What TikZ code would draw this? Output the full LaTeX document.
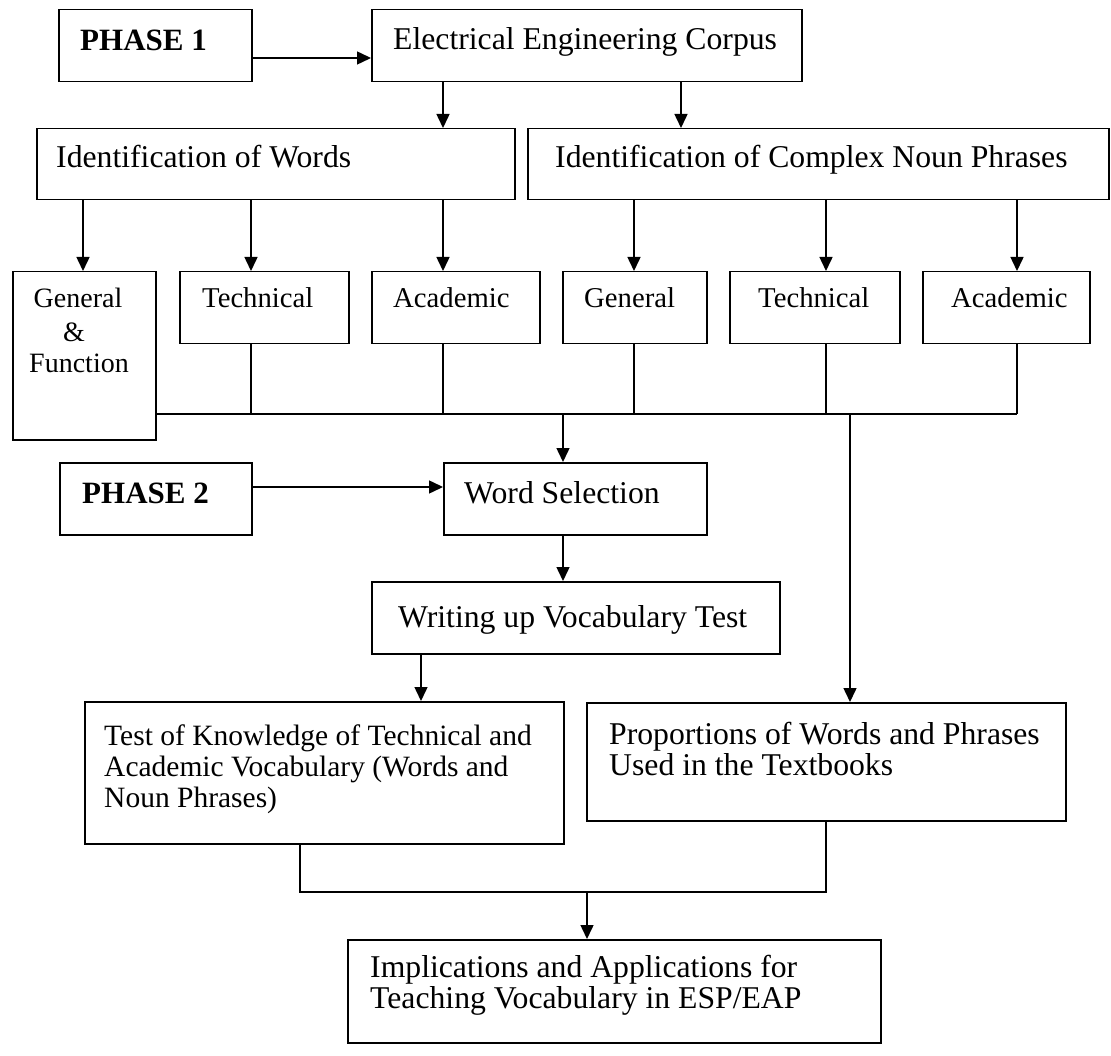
\documentclass[tikz,border=0pt]{standalone}
\usepackage{fontspec}
\setmainfont{Liberation Serif}
\usetikzlibrary{arrows.meta}
\begin{document}
\begin{tikzpicture}[x=1pt,y=-1pt,
  bx/.style={draw, line width=1.5pt, inner sep=0pt, anchor=north west},
  ln/.style={line width=1.5pt},
  arr/.style={line width=1.5pt, -{Triangle[length=14pt,width=13pt]}},
  lbl/.style={anchor=base west, inner sep=0pt, font=\fontsize{31.7}{32}\selectfont},
  lblt/.style={anchor=base west, inner sep=0pt, font=\fontsize{29.5}{31}\selectfont},
  lbls/.style={anchor=base west, inner sep=0pt, font=\fontsize{28.7}{30}\selectfont},
  lblc/.style={anchor=base, inner sep=0pt, font=\fontsize{28}{29}\selectfont},
  lblb/.style={anchor=base west, inner sep=0pt, font=\fontsize{31}{32}\selectfont\bfseries}
]
\useasboundingbox[fill=white] (0,0) rectangle (1111,1056);

% boxes
\node[bx, minimum width=193pt, minimum height=72pt] (p1) at (58,9) {};
\node[bx, minimum width=430pt, minimum height=72pt] (eec) at (371,9) {};
\node[bx, minimum width=478pt, minimum height=71pt] (iow) at (36,128) {};
\node[bx, minimum width=581pt, minimum height=71pt] (cnp) at (527,128) {};
\node[bx, minimum width=143pt, minimum height=168pt] (gf) at (12,271) {};
\node[bx, minimum width=169pt, minimum height=72pt] (tw) at (179,271) {};
\node[bx, minimum width=168pt, minimum height=72pt] (aw) at (371,271) {};
\node[bx, minimum width=144pt, minimum height=72pt] (gn) at (562,271) {};
\node[bx, minimum width=170pt, minimum height=72pt] (tn) at (729,271) {};
\node[bx, minimum width=167pt, minimum height=72pt] (an) at (922,271) {};
\node[bx, minimum width=192pt, minimum height=72pt] (p2) at (59,462) {};
\node[bx, minimum width=263pt, minimum height=72pt] (ws) at (443,462) {};
\node[bx, minimum width=408pt, minimum height=72pt] (wvt) at (371,581) {};
\node[bx, minimum width=479pt, minimum height=142pt] (test) at (84,701) {};
\node[bx, minimum width=479pt, minimum height=118pt] (pr) at (586,702) {};
\node[bx, minimum width=533pt, minimum height=103pt] (imp) at (347,939) {};

% texts
\node[lblb] (tp1) at (80,51) {PHASE 1};
\node[lbl] (teec) at (393,50) {Electrical Engineering Corpus};
\node[lbl] (tiow) at (56,168) {Identification of Words};
\node[lbl] (tcnp) at (555,168) {Identification of Complex Noun Phrases};
\node[lblc] (tgf1) at (78,308) {General};
\node[lblc] (tgf2) at (74,342) {\&};
\node[lblc] (tgf3) at (79,373) {Function};
\node[lbls] (ttw) at (202,308) {Technical};
\node[lbls] (taw) at (393,308) {Academic};
\node[lbls] (tgn) at (584,308) {General};
\node[lbls] (ttn) at (758,308) {Technical};
\node[lbls] (tan) at (951,308) {Academic};
\node[lblb] (tp2) at (82,503) {PHASE 2};
\node[lbl] (tws) at (464,503) {Word Selection};
\node[lbl] (twvt) at (398,627) {Writing up Vocabulary Test};
\node[lblt] (tt1) at (104,745) {Test of Knowledge of Technical and};
\node[lblt] (tt2) at (104,776) {Academic Vocabulary (Words and};
\node[lblt] (tt3) at (104,807) {Noun Phrases)};
\node[lbl] (tpr1) at (609,744) {Proportions of Words and Phrases};
\node[lbl] (tpr2) at (609,775) {Used in the Textbooks};
\node[lbl] (tim1) at (370,977) {Implications and Applications for};
\node[lbl] (tim2) at (370,1008) {Teaching Vocabulary in ESP/EAP};

% connectors
\draw[arr] (p1.east |- 0,58) -- (eec.west |- 0,58);
\draw[arr] (eec.south -| 443,0) -- (iow.north -| 443,0);
\draw[arr] (eec.south -| 681,0) -- (cnp.north -| 681,0);
\draw[arr] (iow.south -| 83,0) -- (gf.north -| 83,0);
\draw[arr] (iow.south -| 251,0) -- (tw.north -| 251,0);
\draw[arr] (iow.south -| 443,0) -- (aw.north -| 443,0);
\draw[arr] (cnp.south -| 634,0) -- (gn.north -| 634,0);
\draw[arr] (cnp.south -| 826,0) -- (tn.north -| 826,0);
\draw[arr] (cnp.south -| 1017,0) -- (an.north -| 1017,0);

\coordinate (mR) at (1017,414);
\draw[ln] (gf.east |- mR) -- (mR);
\draw[ln] (tw.south -| 251,0) -- (251,414);
\draw[ln] (aw.south -| 443,0) -- (443,414);
\draw[ln] (gn.south -| 634,0) -- (634,414);
\draw[ln] (tn.south -| 826,0) -- (826,414);
\draw[ln] (an.south -| mR) -- (mR);

\coordinate (mW) at (563,414);
\coordinate (mP) at (850,414);
\draw[arr] (mW) -- (ws.north -| mW);
\draw[arr] (mP) -- (pr.north -| mP);
\draw[arr] (p2.east |- 0,487) -- (ws.west |- 0,487);
\draw[arr] (ws.south -| 563,0) -- (wvt.north -| 563,0);
\draw[arr] (wvt.south -| 421,0) -- (test.north -| 421,0);

\coordinate (bL) at (300,892);
\coordinate (bR) at (826,892);
\coordinate (bM) at (587,892);
\draw[ln] (test.south -| bL) -- (bL) -- (bR) -- (pr.south -| bR);
\draw[arr] (bM) -- (imp.north -| bM);
\end{tikzpicture}
\end{document}
